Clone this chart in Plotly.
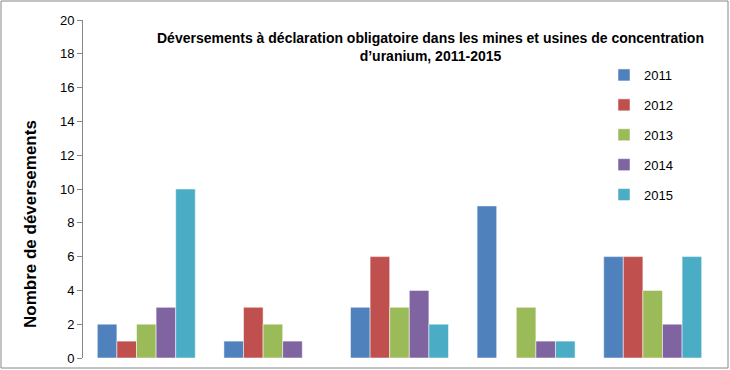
import plotly.graph_objects as go

categories = ["Site 1", "Site 2", "Site 3", "Site 4", "Site 5"]
years = ["2011", "2012", "2013", "2014", "2015"]
v2011 = [2, 1, 3, 9, 6]
v2012 = [1, 3, 6, 0, 6]
v2013 = [2, 2, 3, 3, 4]
v2014 = [3, 1, 4, 1, 2]
v2015 = [10, 0, 2, 1, 6]
series = [v2011, v2012, v2013, v2014, v2015]
colors = ["#4F81BD", "#C0504D", "#9BBB59", "#8064A2", "#4BACC6"]
y_ticks = [0, 2, 4, 6, 8, 10, 12, 14, 16, 18, 20]

title_text = "Déversements à déclaration obligatoire dans les mines et usines de concentration<br>d’uranium, 2011-2015"
y_title = "Nombre de déversements"

fig = go.Figure()
for yr, vals, col in zip(years, series, colors):
    fig.add_trace(go.Bar(
        x=categories, y=vals, name=yr, legendgroup=yr,
        marker=dict(color=col, line=dict(color="rgba(255,255,255,0.5)", width=1)),
    ))

W, H = 730, 370
L, R, T, B = 83, 14, 20, 12
pw, ph = W - L - R, H - T - B

def px(x):
    return (x - L) / pw

def py(y):
    return (H - B - y) / ph

fig.update_layout(
    width=W, height=H,
    margin=dict(l=L, r=R, t=T, b=B, pad=0),
    paper_bgcolor="white", plot_bgcolor="white",
    barmode="group", bargap=0.226, bargroupgap=0,
    font=dict(family="Liberation Sans, Arial, sans-serif", size=13, color="#000000"),
    showlegend=True,
    legend=dict(
        x=px(604), y=py(60), xanchor="left", yanchor="top",
        font=dict(size=13, color="#000000"),
        tracegroupgap=10, itemwidth=30, bgcolor="rgba(0,0,0,0)",
    ),
    xaxis=dict(showticklabels=False, showline=False, ticks="", showgrid=False,
               zeroline=False, automargin=False),
    yaxis=dict(
        range=[0, 20], tickvals=y_ticks, showgrid=False, zeroline=False,
        showline=True, linecolor="#868686", linewidth=1,
        ticks="outside", ticklen=5, tickcolor="#868686",
        tickfont=dict(size=13, color="#000000"), automargin=False,
    ),
    annotations=[
        dict(text="<b>" + title_text + "</b>", x=px(430), y=py(47), xref="paper", yref="paper",
             showarrow=False, xanchor="center", yanchor="middle",
             font=dict(size=14, color="#000000")),
        dict(text="<b>" + y_title + "</b>", x=px(30), y=py(224), xref="paper", yref="paper",
             showarrow=False, textangle=-90, xanchor="center", yanchor="middle",
             font=dict(size=17, color="#000000")),
    ],
    shapes=[
        dict(type="rect", xref="paper", yref="paper",
             x0=px(1), x1=px(728), y0=py(368), y1=py(1),
             line=dict(color="#868686", width=1), fillcolor="rgba(0,0,0,0)", layer="below"),
    ],
)

fig.write_html("out.html", config={"displayModeBar": False},
               post_script="document.body.style.margin='0';")
